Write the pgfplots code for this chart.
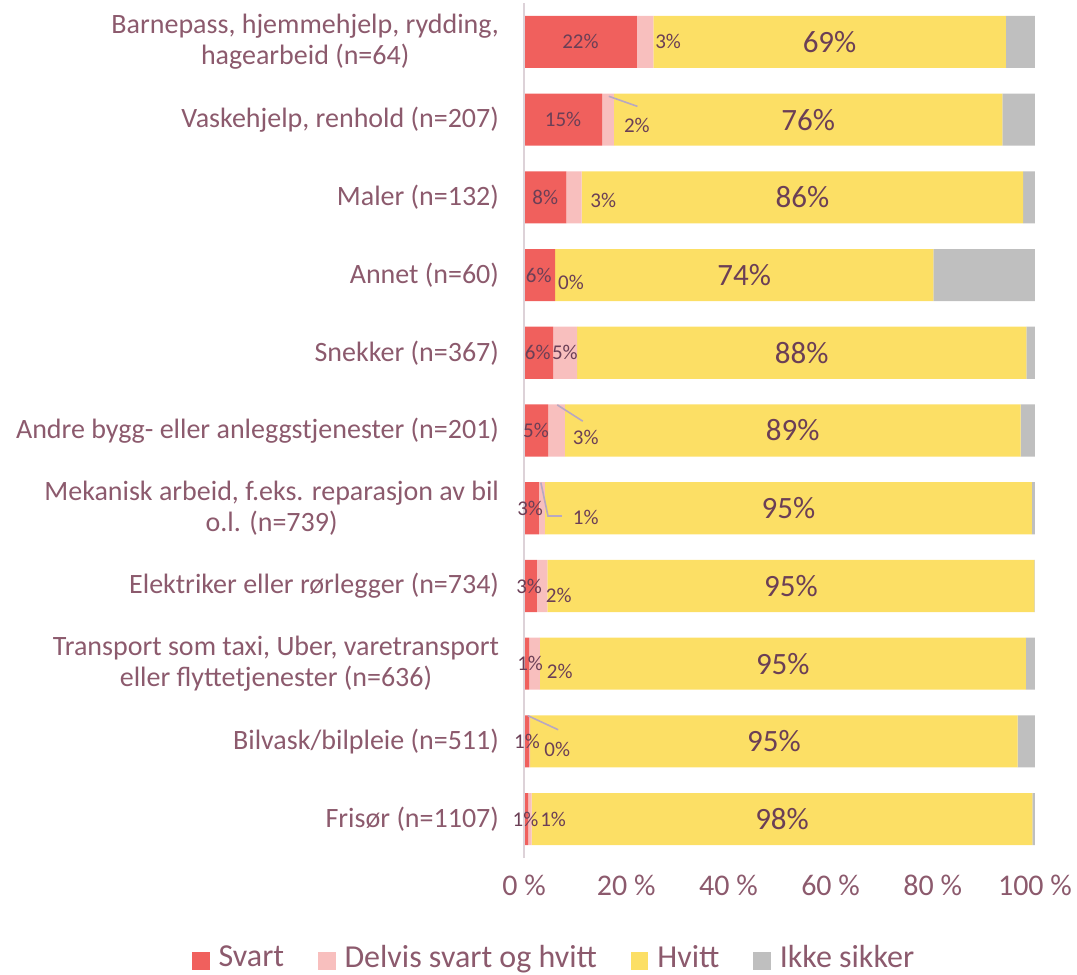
\documentclass[border=0pt]{standalone}
\usepackage{pgfplots}
\pgfplotsset{compat=1.18}
\usepackage{fontspec}
\setmainfont{Carlito}
\definecolor{svart}{HTML}{F0605D}
\definecolor{delvis}{HTML}{F8BFBE}
\definecolor{hvitt}{HTML}{FCDF65}
\definecolor{ikke}{HTML}{BFBFBF}
\definecolor{labcol}{HTML}{8C5A6D}
\definecolor{datcol}{HTML}{6B3F56}
\definecolor{leader}{HTML}{B8A8C2}
\definecolor{axcol}{HTML}{DDD2D8}
\tikzset{sl/.style={font=\fontsize{10.5}{12}\selectfont, text=datcol, inner sep=0pt},
         bl/.style={font=\fontsize{15.5}{17}\selectfont, text=datcol, inner sep=0pt}}
\begin{document}
\begin{tikzpicture}
\path[use as bounding box] (-262pt,-58.5pt) rectangle (276.5pt,429pt);
\begin{axis}[
  at={(0,0)}, anchor=south west,
  scale only axis, width=255.5pt, height=427.5pt,
  xbar stacked, bar width=0.67,
  xmin=0, xmax=100, ymin=-0.5, ymax=10.5, y dir=reverse,
  axis line style={draw=none},
  major tick length=0pt,
  xtick={0,20,40,60,80,100},
  xticklabels={0 \%,20 \%,40 \%,60 \%,80 \%,100 \%},
  xticklabel style={font=\fontsize{15}{18}\selectfont, text=labcol, yshift=-5pt},
  ytick={0,...,10},
  yticklabels={{Barnepass, hjemmehjelp, rydding,\\hagearbeid (n=64)},
    {Vaskehjelp, renhold (n=207)},
    {Maler (n=132)},
    {Annet (n=60)},
    {Snekker (n=367)},
    {Andre bygg- eller anleggstjenester (n=201)},
    {Mekanisk arbeid, f.eks. reparasjon av bil\\o.l. (n=739)},
    {Elektriker eller rørlegger (n=734)},
    {Transport som taxi, Uber, varetransport\\eller flyttetjenester (n=636)},
    {Bilvask/bilpleie (n=511)},
    {Frisør (n=1107)}},
  yticklabel style={font=\fontsize{14}{15.5}\selectfont, text=labcol, align=center, xshift=-9pt},
  legend style={at={(0.061,-0.1165)}, anchor=center, draw=none, fill=none,
    legend columns=4, font=\fontsize{16}{19}\selectfont, text=labcol,
    /tikz/every odd column/.append style={column sep=2.5pt},
    /tikz/every even column/.append style={column sep=15pt}},
  legend image code/.code={\fill[#1] (0pt,-6pt) rectangle (8.7pt,2.7pt);},
  clip=false,
  after end axis/.code={
    \draw[axcol, line width=0.8pt] (rel axis cs:0,0) -- (rel axis cs:0,1);
    \draw[leader, line width=0.8pt] (axis cs:16.6,0.70) -- (axis cs:22.2,0.83);
    \draw[leader, line width=0.8pt] (axis cs:6.5,4.67) -- (axis cs:11.5,4.88);
    \draw[leader, line width=0.8pt] (axis cs:3.3,5.67) -- (axis cs:4.7,6.10) -- (axis cs:7.4,6.10);
    \draw[leader, line width=0.8pt] (axis cs:0.8,8.67) -- (axis cs:6.7,8.85);
    \node[sl] at (axis cs:11.05,0) {22\%};
    \node[sl] at (axis cs:7.65,1) {15\%};
    \node[sl] at (axis cs:4.15,2) {8\%};
    \node[sl] at (axis cs:2.9,3) {6\%};
    \node[sl] at (axis cs:2.7,4) {6\%};
    \node[sl] at (axis cs:2.35,5) {5\%};
    \node[sl] at (axis cs:1.2,6) {3\%};
    \node[sl] at (axis cs:1.0,7) {3\%};
    \node[sl] at (axis cs:1.2,8) {1\%};
    \node[sl] at (axis cs:0.6,9) {1\%};
    \node[sl] at (axis cs:0.3,10) {1\%};
    \node[sl] at (axis cs:28.2,0) {3\%};
    \node[sl] at (axis cs:22.1,1.07) {2\%};
    \node[sl] at (axis cs:15.5,2.04) {3\%};
    \node[sl] at (axis cs:9.2,3.1) {0\%};
    \node[sl] at (axis cs:8.0,4) {5\%};
    \node[sl] at (axis cs:12.1,5.09) {3\%};
    \node[sl] at (axis cs:12.1,6.12) {1\%};
    \node[sl] at (axis cs:6.8,7.12) {2\%};
    \node[sl] at (axis cs:7.0,8.1) {2\%};
    \node[sl] at (axis cs:6.5,9.1) {0\%};
    \node[sl] at (axis cs:5.7,10) {1\%};
    \node[bl] at (axis cs:59.8,0) {69\%};
    \node[bl] at (axis cs:55.6,1) {76\%};
    \node[bl] at (axis cs:54.5,2) {86\%};
    \node[bl] at (axis cs:43.1,3) {74\%};
    \node[bl] at (axis cs:54.35,4) {88\%};
    \node[bl] at (axis cs:52.6,5) {89\%};
    \node[bl] at (axis cs:51.75,6) {95\%};
    \node[bl] at (axis cs:52.25,7) {95\%};
    \node[bl] at (axis cs:50.65,8) {95\%};
    \node[bl] at (axis cs:48.9,9) {95\%};
    \node[bl] at (axis cs:50.5,10) {98\%};
  },
]
\addplot[fill=svart, draw=none] coordinates {(22.1,0) (15.3,1) (8.3,2) (6.1,3) (5.7,4) (4.7,5) (2.9,6) (2.5,7) (1.0,8) (1.0,9) (0.8,10)};
\addlegendentry{Svart}
\addplot[fill=delvis, draw=none] coordinates {(3.2,0) (2.3,1) (3.0,2) (0.0,3) (4.7,4) (3.3,5) (1.2,6) (2.1,7) (2.1,8) (0.2,9) (0.7,10)};
\addlegendentry{Delvis svart og hvitt}
\addplot[fill=hvitt, draw=none] coordinates {(69.0,0) (76.0,1) (86.4,2) (74.0,3) (87.9,4) (89.2,5) (95.3,6) (95.3,7) (95.1,8) (95.4,9) (98.0,10)};
\addlegendentry{Hvitt}
\addplot[fill=ikke, draw=none] coordinates {(5.7,0) (6.4,1) (2.3,2) (19.9,3) (1.7,4) (2.8,5) (0.6,6) (0.1,7) (1.8,8) (3.4,9) (0.5,10)};
\addlegendentry{Ikke sikker}
\end{axis}
\end{tikzpicture}
\end{document}
